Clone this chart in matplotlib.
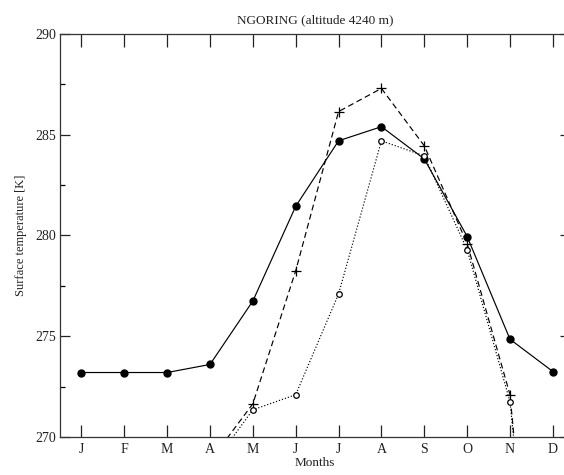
import matplotlib
matplotlib.use("Agg")
import matplotlib.pyplot as plt
import numpy as np

months = ["J", "F", "M", "A", "M", "J", "J", "A", "S", "O", "N", "D"]
x = np.arange(1, 13)

# solid line, filled markers
solid = [273.2, 273.2, 273.2, 273.6, 276.75, 281.45, 284.7, 285.4, 283.8, 279.95, 274.85, 273.25]
# dashed line, plus markers (values below 270 are off the chart)
dashed = [np.nan, np.nan, np.nan, 268.8, 271.65, 278.25, 286.15, 287.3, 284.45, 279.6, 272.1, 249.5]
# dotted line, open circles
dotted = [np.nan, np.nan, np.nan, 268.45, 271.35, 272.1, 277.1, 284.7, 283.95, 279.3, 271.75, 250.5]

plt.rcParams['font.family'] = ['Liberation Serif', 'DejaVu Serif']

fig = plt.figure(figsize=(5.64, 4.75), dpi=100)
# axes run slightly past the right edge of the picture, as in the original
ax = fig.add_axes([60/564, 38/475, 510/564, (437-34)/475])

ax.plot(x, solid, '-', color='black', lw=0.85, marker='o', ms=5, mfc='black', mec='black')
ax.plot(x, dashed, '--', color='black', lw=0.85, dashes=(5, 3), marker='+', ms=7, mew=0.9)
ax.plot(x, dotted, ':', color='black', lw=0.85, marker='o', ms=4, mfc='white', mec='black', mew=0.9)

ax.set_xlim(0.5, 12.4)
ax.set_ylim(270, 290)
ax.set_xticks(x)
ax.set_xticklabels(months)
ax.set_yticks([270, 275, 280, 285, 290])
ax.set_yticks([272.5, 277.5, 282.5, 287.5], minor=True)

ax.tick_params(axis='x', which='major', direction='in', length=9, width=0.9,
               top=True, bottom=True, labelsize=10, pad=4, colors='#222222')
ax.tick_params(axis='y', which='major', direction='in', length=7.5, width=0.9,
               left=True, right=True, labelsize=10, pad=3, colors='#222222')
ax.tick_params(axis='y', which='minor', direction='in', length=3.5, width=0.9,
               left=True, right=True)
for s in ax.spines.values():
    s.set_linewidth(0.9)
    s.set_color('#333333')

ax.set_title("NGORING (altitude 4240 m)", fontsize=9.5, pad=8, color='#222222')
ax.set_xlabel("Months", fontsize=9.5, labelpad=1, color='#222222')
ax.set_ylabel("Surface temperature [K]", fontsize=9, labelpad=6, color='#222222')

fig.savefig("out.png", dpi=100)
